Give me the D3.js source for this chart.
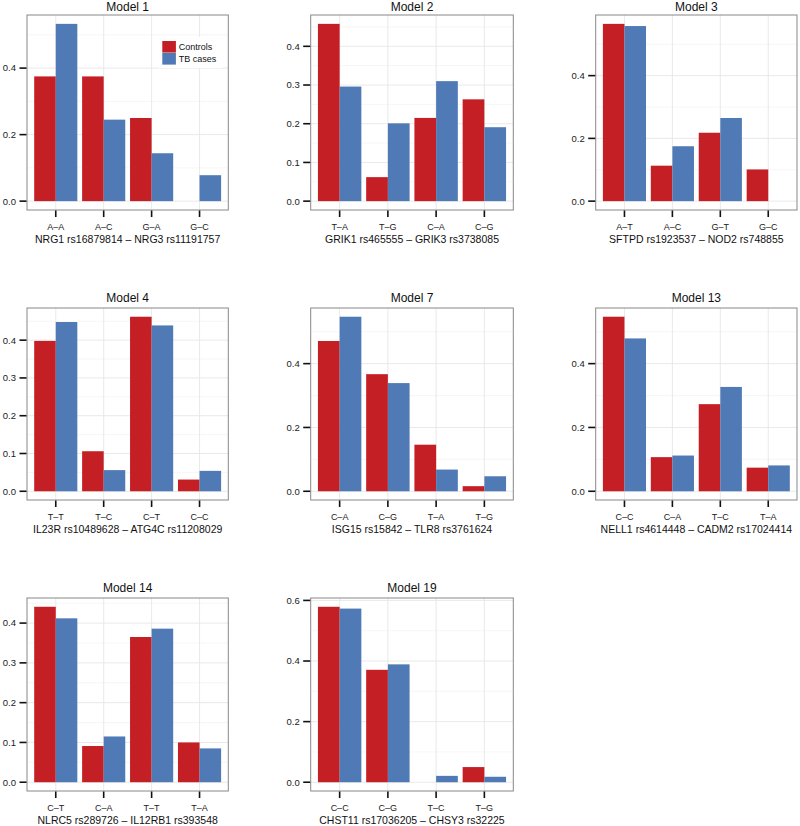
<!DOCTYPE html>
<html>
<head>
<meta charset="utf-8">
<script src="https://cdn.jsdelivr.net/npm/d3@7"></script>
<style>
  html, body { margin: 0; padding: 0; background: #fff; }
  svg { display: block; }
  text { font-family: "Liberation Sans", Arial, Helvetica, sans-serif; }
</style>
</head>
<body>
<svg id="chart" width="800" height="826"></svg>
<script>
// ---------------- data ----------------
const seriesNames = ["Controls", "TB cases"];
const panelTitles = ["Model 1", "Model 2", "Model 3", "Model 4", "Model 7", "Model 13", "Model 14", "Model 19"];
const xTitles = [
  "NRG1 rs16879814 – NRG3 rs11191757",
  "GRIK1 rs465555 – GRIK3 rs3738085",
  "SFTPD rs1923537 – NOD2 rs748855",
  "IL23R rs10489628 – ATG4C rs11208029",
  "ISG15 rs15842 – TLR8 rs3761624",
  "NELL1 rs4614448 – CADM2 rs17024414",
  "NLRC5 rs289726 – IL12RB1 rs393548",
  "CHST11 rs17036205 – CHSY3 rs32225"
];
const haplotypes = [
  ["A–A", "A–C", "G–A", "G–C"],
  ["T–A", "T–G", "C–A", "C–G"],
  ["A–T", "A–C", "G–T", "G–C"],
  ["T–T", "T–C", "C–T", "C–C"],
  ["C–A", "C–G", "T–A", "T–G"],
  ["C–C", "C–A", "T–C", "T–A"],
  ["C–T", "C–A", "T–T", "T–A"],
  ["C–C", "C–G", "T–C", "T–G"]
];
const controls = [
  [0.375, 0.375, 0.250, 0.000],
  [0.458, 0.062, 0.215, 0.263],
  [0.565, 0.113, 0.218, 0.101],
  [0.398, 0.106, 0.462, 0.031],
  [0.471, 0.367, 0.146, 0.016],
  [0.547, 0.107, 0.273, 0.074],
  [0.441, 0.091, 0.365, 0.100],
  [0.579, 0.371, 0.000, 0.050]
];
const tbCases = [
  [0.533, 0.245, 0.144, 0.078],
  [0.296, 0.201, 0.310, 0.191],
  [0.558, 0.175, 0.265, 0.000],
  [0.448, 0.056, 0.439, 0.054],
  [0.547, 0.339, 0.068, 0.047],
  [0.479, 0.112, 0.327, 0.081],
  [0.412, 0.115, 0.386, 0.085],
  [0.573, 0.389, 0.021, 0.018]
];
const yTicks = [
  [0, 0.2, 0.4],
  [0, 0.1, 0.2, 0.3, 0.4],
  [0, 0.2, 0.4],
  [0, 0.1, 0.2, 0.3, 0.4],
  [0, 0.2, 0.4],
  [0, 0.2, 0.4],
  [0, 0.1, 0.2, 0.3, 0.4],
  [0, 0.2, 0.4, 0.6]
];

// ---------------- layout ----------------
const colLeft = [27, 310.7, 595.7];
const colRight = [228.3, 513.3, 797];
const rowTop = [15, 308, 598];
const rowBottom = [210, 500, 791];
const titleBase = [11, 301.5, 592];
const colors = { "Controls": "#C41F24", "TB cases": "#4F7AB5" };

const svg = d3.select("#chart");

panelTitles.forEach((title, i) => {
  const r = Math.floor(i / 3), c = i % 3;
  const L = colLeft[c], R = colRight[c], T = rowTop[r], B = rowBottom[r];
  const cats = haplotypes[i];
  const rows = cats.map((h, k) => ({ h, Controls: controls[i][k], "TB cases": tbCases[i][k] }));
  const maxV = d3.max(rows, d => Math.max(d.Controls, d["TB cases"]));

  const x = d3.scaleBand().domain(cats).range([L, R]).paddingInner(0.1).paddingOuter(0.15);
  const xs = d3.scaleBand().domain(seriesNames).range([0, x.bandwidth()]);
  const y = d3.scaleLinear().domain([-0.05 * maxV, 1.05 * maxV]).range([B, T]);

  const g = svg.append("g");

  g.append("rect").attr("x", L).attr("y", T).attr("width", R - L).attr("height", B - T).attr("fill", "#fff");

  // minor gridlines
  const ticks = yTicks[i];
  const step = ticks[1] - ticks[0];
  const [d0, d1] = y.domain();
  const minors = [ticks[0] - step / 2].concat(ticks.map(t => t + step / 2)).filter(v => v > d0 && v < d1);
  g.selectAll(".minor").data(minors).enter().append("line")
    .attr("x1", L).attr("x2", R).attr("y1", d => y(d)).attr("y2", d => y(d))
    .attr("stroke", "#f4f4f4").attr("stroke-width", 0.8);
  // major gridlines
  g.selectAll(".majy").data(ticks).enter().append("line")
    .attr("x1", L).attr("x2", R).attr("y1", d => y(d)).attr("y2", d => y(d))
    .attr("stroke", "#e6e6e6").attr("stroke-width", 0.9);
  g.selectAll(".majx").data(cats).enter().append("line")
    .attr("x1", d => x(d) + x.bandwidth() / 2).attr("x2", d => x(d) + x.bandwidth() / 2)
    .attr("y1", T).attr("y2", B)
    .attr("stroke", "#e6e6e6").attr("stroke-width", 0.9);

  // bars
  const grp = g.selectAll(".grp").data(rows).enter().append("g")
    .attr("transform", d => `translate(${x(d.h)},0)`);
  grp.selectAll("rect").data(d => seriesNames.map(s => ({ s, v: d[s] }))).enter().append("rect")
    .attr("x", d => xs(d.s))
    .attr("width", xs.bandwidth())
    .attr("y", d => y(d.v))
    .attr("height", d => y(0) - y(d.v))
    .attr("fill", d => colors[d.s]);

  // panel border
  g.append("rect").attr("x", L).attr("y", T).attr("width", R - L).attr("height", B - T)
    .attr("fill", "none").attr("stroke", "#888").attr("stroke-width", 1);

  // y axis ticks + labels
  g.selectAll(".yt").data(ticks).enter().append("line")
    .attr("x1", L - 7.5).attr("x2", L - 0.5).attr("y1", d => y(d)).attr("y2", d => y(d))
    .attr("stroke", "#111").attr("stroke-width", 1.6);
  g.selectAll(".yl").data(ticks).enter().append("text")
    .attr("x", L - 11).attr("y", d => y(d) + 3.4)
    .attr("text-anchor", "end").attr("font-size", 9.5).attr("fill", "#1a1a1a")
    .text(d => d3.format(".1f")(d));

  // x axis ticks + labels
  g.selectAll(".xt").data(cats).enter().append("line")
    .attr("x1", d => x(d) + x.bandwidth() / 2).attr("x2", d => x(d) + x.bandwidth() / 2)
    .attr("y1", B + 0.5).attr("y2", B + 7)
    .attr("stroke", "#111").attr("stroke-width", 1.6);
  g.selectAll(".xl").data(cats).enter().append("text")
    .attr("x", d => x(d) + x.bandwidth() / 2).attr("y", B + 20)
    .attr("text-anchor", "middle").attr("font-size", 9).attr("fill", "#1a1a1a")
    .text(d => d);

  // axis title
  g.append("text").attr("x", (L + R) / 2).attr("y", B + 32.5)
    .attr("text-anchor", "middle").attr("font-size", 10.5).attr("fill", "#111")
    .text(xTitles[i]);

  // panel title
  g.append("text").attr("x", (L + R) / 2).attr("y", titleBase[r])
    .attr("text-anchor", "middle").attr("font-size", 12).attr("fill", "#111")
    .text(title);

  // legend (first panel only)
  if (i === 0) {
    const lg = g.append("g");
    lg.append("rect").attr("x", 158).attr("y", 37).attr("width", 64).attr("height", 31).attr("fill", "#fff");
    seriesNames.forEach((s, k) => {
      lg.append("rect").attr("x", 162.3).attr("y", 41 + k * 12).attr("width", 13.6).attr("height", 11.6)
        .attr("fill", colors[s]);
      lg.append("text").attr("x", 178.8).attr("y", 49.6 + k * 12.8)
        .attr("font-size", 9).attr("fill", "#111").text(s);
    });
  }
});
</script>
</body>
</html>
